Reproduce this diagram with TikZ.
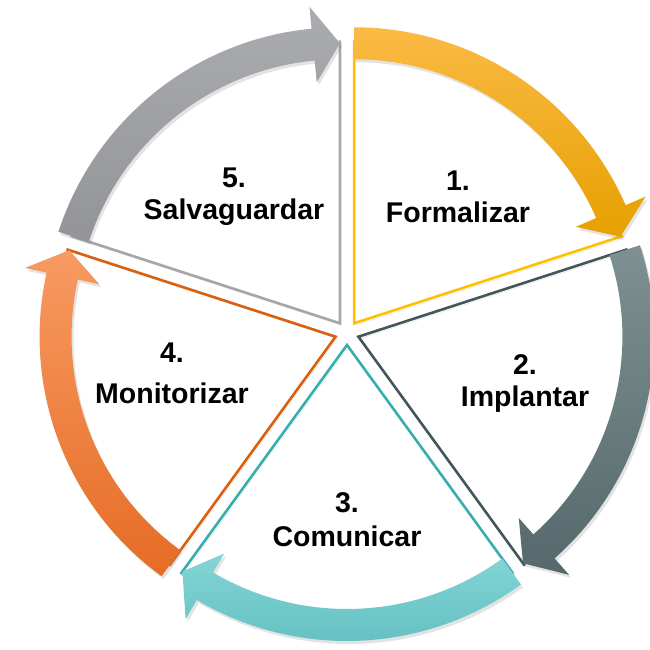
\documentclass[tikz,border=0pt]{standalone}
\usepackage{fontspec}
\setmainfont{Liberation Sans}
\usepackage{xcolor}
\definecolor{formedge}{HTML}{FFC000}
\definecolor{formtop}{HTML}{FBBA45}
\definecolor{formbot}{HTML}{E6A000}
\definecolor{impledge}{HTML}{43565A}
\definecolor{impltop}{HTML}{7E9091}
\definecolor{implbot}{HTML}{55696C}
\definecolor{comuedge}{HTML}{38ADB0}
\definecolor{comutop}{HTML}{84D4D5}
\definecolor{comubot}{HTML}{5FBDBF}
\definecolor{moniedge}{HTML}{D8600E}
\definecolor{monitop}{HTML}{F89A62}
\definecolor{monibot}{HTML}{E56C25}
\definecolor{salvedge}{HTML}{A6A6A6}
\definecolor{salvtop}{HTML}{ABACAF}
\definecolor{salvbot}{HTML}{939498}
\usepackage{tikz}
\usetikzlibrary{shadows}

\begin{document}
\begin{tikzpicture}[
    stage/.style={font=\fontsize{28.5}{32}\selectfont\bfseries, align=center, text=black},
    wedge/.style={line width=2.6pt, line join=miter,
        preaction={draw=black, opacity=0.12, transform canvas={shift={(1.5pt,-2pt)}}}},
    band/.style={drop shadow={opacity=0.22, shadow xshift=2pt, shadow yshift=-3pt}}
]
\useasboundingbox (-347pt,-317pt) rectangle (302pt,333pt);

% Wedges
\draw [wedge, formedge, shift={(54:12pt)}] (90:283pt) -- (0,0) -- (18:283pt);
\draw [wedge, impledge, shift={(-18:12pt)}] (18:283pt) -- (0,0) -- (-54:283pt);
\draw [wedge, comuedge, shift={(-90:12pt)}] (-54:283pt) -- (0,0) -- (-126:283pt);
\draw [wedge, moniedge, shift={(198:12pt)}] (234:283pt) -- (0,0) -- (162:283pt);
\draw [wedge, salvedge, shift={(126:12pt)}] (162:283pt) -- (0,0) -- (90:283pt);

% Arrows
\path [band, top color=formtop, bottom color=formbot, shift={(54:12pt)}]
    (90:264pt) arc[start angle=90, end angle=23.5, radius=264pt] -- (23.5:242pt) -- (18:280pt)
    -- (23.5:318pt) -- (23.5:296pt) arc[start angle=23.5, end angle=90, radius=296pt] -- cycle;
\path [band, top color=impltop, bottom color=implbot, shift={(-18:12pt)}]
    (18:264pt) arc[start angle=18, end angle=-48.5, radius=264pt] -- (-48.5:242pt) -- (-54:280pt)
    -- (-48.5:318pt) -- (-48.5:296pt) arc[start angle=-48.5, end angle=18, radius=296pt] -- cycle;
\path [band, top color=comutop, bottom color=comubot, shift={(-90:12pt)}]
    (-54:264pt) arc[start angle=-54, end angle=-120.5, radius=264pt] -- (-120.5:242pt) -- (-126:280pt)
    -- (-120.5:318pt) -- (-120.5:296pt) arc[start angle=-120.5, end angle=-54, radius=296pt] -- cycle;
\path [band, top color=monitop, bottom color=monibot, shift={(198:12pt)}]
    (234:264pt) arc[start angle=234, end angle=167.5, radius=264pt] -- (167.5:242pt) -- (162:280pt)
    -- (167.5:318pt) -- (167.5:296pt) arc[start angle=167.5, end angle=234, radius=296pt] -- cycle;
\path [band, top color=salvtop, bottom color=salvbot, shift={(126:12pt)}]
    (162:264pt) arc[start angle=162, end angle=95.5, radius=264pt] -- (95.5:242pt) -- (90:280pt)
    -- (95.5:318pt) -- (95.5:296pt) arc[start angle=95.5, end angle=162, radius=296pt] -- cycle;

% Labels
\node (formalizar) [stage] at (111pt,136pt) {1.\\Formalizar};
\node (implantar) [stage] at (178pt,-51pt) {2.\\Implantar};
\node (comunicar) [stage] at (0pt,-187pt) {3.\\[2pt]Comunicar};
\node (monitorizar) [stage] at (-175pt,-40pt) {4.\\[9pt]Monitorizar};
\node (salvaguardar) [stage] at (-113pt,136pt) {5.\\Salvaguardar};

\end{tikzpicture}
\end{document}
